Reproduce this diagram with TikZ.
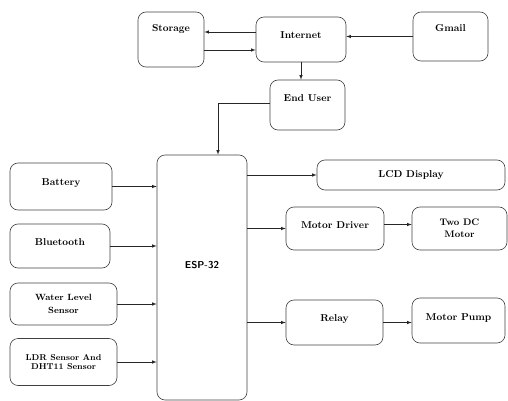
\documentclass[tikz,border=0pt]{standalone}
\usepackage{tikz}
\usetikzlibrary{arrows}
\tikzstyle{block} = [draw=black!75, rounded corners=8pt, line width=0.6pt, font=\bfseries, align=center, inner sep=2pt]
\tikzset{link/.style={-latex, draw=black!85, line width=0.6pt},
    raised/.style={text depth=#1}}

\begin{document}
\begin{tikzpicture}[x=1pt,y=-1pt]
    \useasboundingbox (0,0) rectangle (508,401);
    % Cloud side
    \node[block, minimum width=66pt, minimum height=55pt, raised=23pt] (storage) at (171,39.5) {Storage};
    \node[block, minimum width=90pt, minimum height=45pt, raised=9pt] (internet) at (301,39.5) {Internet};
    \node[block, minimum width=75pt, minimum height=49pt, raised=17pt] (gmail) at (450.5,36.5) {Gmail};
    \node[block, minimum width=75pt, minimum height=50pt, raised=14pt] (enduser) at (307.5,105) {End User};
    %
    % Inputs
    \node[block, minimum width=102pt, minimum height=47pt, raised=9pt] (battery) at (61,186.5) {Battery};
    \node[block, minimum width=100pt, minimum height=44pt, raised=8pt] (bluetooth) at (60,246) {Bluetooth};
    \node[block, minimum width=107pt, minimum height=42pt, font=\bfseries\fontsize{9}{13}\selectfont] (water) at (63.5,304) {Water Level\\Sensor};
    \node[block, minimum width=107pt, minimum height=47pt, font=\bfseries\fontsize{8.5}{9}\selectfont] (ldr) at (63.5,362) {LDR Sensor And\\DHT11 Sensor};
    %
    % Controller
    \node[block, minimum width=90pt, minimum height=245pt, raised=25pt, font=\sffamily\bfseries] (esp) at (202,277.5) {ESP-32};
    %
    % Outputs
    \node[block, minimum width=188pt, minimum height=30pt] (lcd) at (411,175) {LCD Display};
    \node[block, minimum width=98pt, minimum height=43pt, raised=7pt] (driver) at (335,228.5) {Motor Driver};
    \node[block, minimum width=95pt, minimum height=43pt, font=\bfseries\fontsize{9.5}{12}\selectfont] (dcmotor) at (459.5,228.5) {Two DC\\Motor};
    \node[block, minimum width=97pt, minimum height=45pt, raised=9pt] (relay) at (334.5,322.5) {Relay};
    \node[block, minimum width=93pt, minimum height=45pt, raised=7pt] (pump) at (458.5,320.5) {Motor Pump};
    %
    \draw[link] ([yshift=7.5pt]internet.west) -- ([yshift=7.5pt]storage.east);
    \draw[link] ([yshift=-10.5pt]storage.east) -- ([yshift=-10.5pt]internet.west);
    \draw[link] (gmail.west) -- (gmail.west -| internet.east);
    \draw[link] (internet.south) -- (internet.south |- enduser.north);
    \draw[link] ([yshift=2pt]enduser.west) -| ([xshift=16pt]esp.north);
    \draw[link] (battery.east) -- (battery.east -| esp.west);
    \draw[link] (bluetooth.east) -- (bluetooth.east -| esp.west);
    \draw[link] (water.east) -- (water.east -| esp.west);
    \draw[link] (ldr.east) -- (ldr.east -| esp.west);
    \draw[link] (esp.east |- lcd.west) -- (lcd.west);
    \draw[link] (esp.east |- driver.west) -- (driver.west);
    \draw[link] (esp.east |- relay.west) -- (relay.west);
    \draw[link] ([yshift=4pt]driver.east) -- ([yshift=4pt]driver.east -| dcmotor.west);
    \draw[link] (relay.east) -- (relay.east -| pump.west);
\end{tikzpicture}
\end{document}
